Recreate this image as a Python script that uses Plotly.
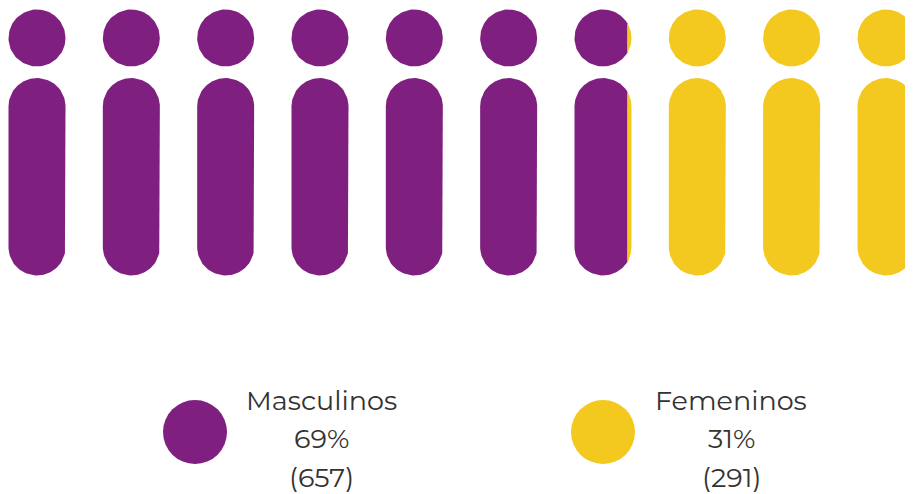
import numpy as np
import plotly.graph_objects as go

# ---- data ----
categories = ["Masculinos", "Femeninos"]
counts = [657, 291]
pct_labels = ["69%", "31%"]
colors = ["#7F1F80", "#F3C91F"]
n_icons = 10

# ---- layout constants ----
W, H = 913, 494
OFF = 8  # page body margin compensation
x0, pitch = 37.0, 94.33
r = 28.5
head_cy = 38.0
body_top, body_bot = 78.0, 275.5

total = sum(counts)
split_units = counts[0] / total * n_icons  # icons filled by first category


def pill(cx, top, bot, rr, n=48):
    t1 = np.linspace(np.pi, 0, n)
    t2 = np.linspace(0, np.pi, n)
    xs = np.concatenate([cx + rr * np.cos(t1), cx + rr * np.cos(t2)])
    ys = np.concatenate([(top + rr) - rr * np.sin(t1), (bot - rr) + rr * np.sin(t2)])
    return xs, ys


def circle(cx, cy, rr, n=96):
    t = np.linspace(0, 2 * np.pi, n)
    return cx + rr * np.cos(t), cy + rr * np.sin(t)


fig = go.Figure()


def add_poly(xs, ys, color):
    fig.add_trace(go.Scatter(x=np.append(xs, xs[0]), y=np.append(ys, ys[0]),
                             mode="lines", fill="toself", fillcolor=color,
                             line=dict(width=0, color=color), hoverinfo="skip",
                             showlegend=False))


for i in range(n_icons):
    cx = x0 + i * pitch
    shapes = [circle(cx, head_cy, r), pill(cx, body_top, body_bot, r)]
    frac = min(max(split_units - i, 0.0), 1.0)
    for xs, ys in shapes:
        if frac >= 1.0:
            add_poly(xs, ys, colors[0])
        elif frac <= 0.0:
            add_poly(xs, ys, colors[1])
        else:
            xsplit = cx - r + frac * 2 * r
            add_poly(np.minimum(xs, xsplit), ys, colors[0])
            add_poly(np.maximum(xs, xsplit), ys, colors[1])

# ---- custom legend ----
leg_marker_x = [195, 603]
leg_text_x = [321, 731]
leg_y = 432
fig.add_trace(go.Scatter(x=leg_marker_x, y=[leg_y, leg_y], mode="markers",
                         marker=dict(size=64, color=colors, line=dict(width=0)),
                         hoverinfo="skip", showlegend=False))

font = dict(family="Montserrat, 'Open Sans', sans-serif", size=27, color="#333333")
for k, cat in enumerate(categories):
    lines = [cat, pct_labels[k], f"({counts[k]})"]
    for j, txt in enumerate(lines):
        fig.add_annotation(x=leg_text_x[k], y=400 + j * 38.5, text=txt,
                           showarrow=False, xanchor="center", yanchor="middle",
                           font=font)

fig.update_layout(
    width=W - OFF, height=H - OFF,
    margin=dict(l=0, r=0, t=0, b=0),
    paper_bgcolor="white", plot_bgcolor="white",
    xaxis=dict(range=[OFF, W], visible=False, fixedrange=True),
    yaxis=dict(range=[H, OFF], visible=False, fixedrange=True),
)

fig.write_html("out.html")
